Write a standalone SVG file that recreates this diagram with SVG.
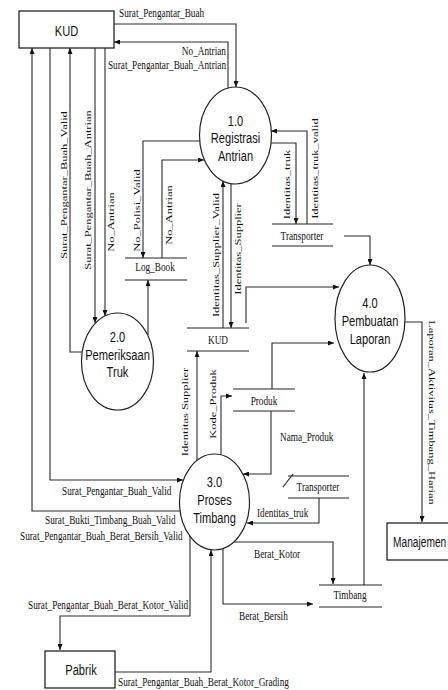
<svg xmlns="http://www.w3.org/2000/svg" width="448" height="690" viewBox="0 0 448 690">
  <style>
    .bg { fill: #ffffff; }
    .box { fill: #ffffff; stroke: #111111; stroke-width: 1.2; }
    .proc { fill: #ffffff; stroke: #222222; stroke-width: 1.2; }
    .store { fill: none; stroke: #222222; stroke-width: 1.2; }
    .flow { fill: none; stroke: #2a2a2a; stroke-width: 1.1; }
    .arrow { marker-end: url(#head); }
    .node { font-family: "Liberation Sans", Arial, sans-serif; font-size: 15px; text-anchor: middle; fill: #111111; }
    .lbl { font-family: "Liberation Serif", "Times New Roman", serif; font-size: 12.5px; fill: #111111; }
    .mid { text-anchor: middle; }
    .end { text-anchor: end; }
  </style>
  <defs>
    <marker id="head" markerUnits="userSpaceOnUse" markerWidth="6" markerHeight="5" refX="6" refY="2.5" orient="auto">
      <path d="M0,0 L6,2.5 L0,5 z" fill="#111111"/>
    </marker>
  </defs>

  <rect class="bg" x="0" y="0" width="448" height="690"/>

  <!-- external entities -->
  <g id="ext-kud">
    <rect class="box" x="19" y="11" width="95" height="37"/>
    <text class="node" transform="translate(66.5,36) scale(0.74,1)">KUD</text>
  </g>
  <g id="ext-pabrik">
    <rect class="box" x="45" y="651" width="70" height="37"/>
    <text class="node" transform="translate(81,675) scale(0.74,1)">Pabrik</text>
  </g>
  <g id="ext-manajemen">
    <rect class="box" x="387" y="523" width="80" height="37"/>
    <text class="node" style="text-anchor:start" transform="translate(393,547) scale(0.68,1)">Manajemen</text>
  </g>

  <!-- processes -->
  <g id="proc-1">
    <ellipse class="proc" cx="235.5" cy="135.5" rx="36" ry="48.5"/>
    <text class="node" transform="translate(235.5,126) scale(0.74,1)">1.0</text>
    <text class="node" transform="translate(235.5,143) scale(0.74,1)">Registrasi</text>
    <text class="node" transform="translate(235.5,161) scale(0.74,1)">Antrian</text>
  </g>
  <g id="proc-2">
    <ellipse class="proc" cx="117.5" cy="361.5" rx="36" ry="48.5"/>
    <text class="node" transform="translate(117.5,342) scale(0.74,1)">2.0</text>
    <text class="node" transform="translate(117.5,360) scale(0.74,1)">Pemeriksaan</text>
    <text class="node" transform="translate(117.5,377) scale(0.74,1)">Truk</text>
  </g>
  <g id="proc-3">
    <ellipse class="proc" cx="214.5" cy="502" rx="35" ry="48"/>
    <text class="node" transform="translate(214.5,487) scale(0.74,1)">3.0</text>
    <text class="node" transform="translate(214.5,504.5) scale(0.74,1)">Proses</text>
    <text class="node" transform="translate(214.5,523) scale(0.74,1)">Timbang</text>
  </g>
  <g id="proc-4">
    <ellipse class="proc" cx="370" cy="318.5" rx="35" ry="53.5"/>
    <text class="node" transform="translate(370,308) scale(0.74,1)">4.0</text>
    <text class="node" transform="translate(370,326) scale(0.74,1)">Pembuatan</text>
    <text class="node" transform="translate(370,344) scale(0.74,1)">Laporan</text>
  </g>

  <!-- data stores -->
  <g id="store-logbook">
    <path class="store" d="M125,258 H187 M125,280 H187"/>
    <text class="lbl mid" transform="translate(155,271) scale(0.74,1)">Log_Book</text>
  </g>
  <g id="store-transporter-1">
    <path class="store" d="M272,224 H333 M272,246 H333"/>
    <text class="lbl mid" transform="translate(302,239.5) scale(0.74,1)">Transporter</text>
  </g>
  <g id="store-kud">
    <path class="store" d="M187,328 H249 M187,351 H249"/>
    <text class="lbl mid" transform="translate(218,344) scale(0.74,1)">KUD</text>
  </g>
  <g id="store-produk">
    <path class="store" d="M233,389 H295 M233,411 H295"/>
    <text class="lbl mid" transform="translate(264,404.5) scale(0.74,1)">Produk</text>
  </g>
  <g id="store-transporter-2">
    <path class="store" d="M288,476 H349 M288,498 H349 M283,487 L293,474"/>
    <text class="lbl mid" transform="translate(318,491) scale(0.74,1)">Transporter</text>
  </g>
  <g id="store-timbang">
    <path class="store" d="M319,585 H382 M319,607 H382"/>
    <text class="lbl mid" transform="translate(350,598.5) scale(0.74,1)">Timbang</text>
  </g>

  <!-- data flows -->
  <g id="flows">
    <path class="flow arrow" d="M114,24 H236 V87"/>
    <path class="flow arrow" d="M228,89 V42 H114"/>
    <path class="flow arrow" d="M82,352 H70 V48"/>
    <path class="flow arrow" d="M95,48 V323"/>
    <path class="flow arrow" d="M105,48 V316"/>
    <path class="flow arrow" d="M50,48 V480 H183"/>
    <path class="flow arrow" d="M180,511 H32 V48"/>
    <path class="flow arrow" d="M200,141 H143 V258"/>
    <path class="flow arrow" d="M162,258 V160 H204"/>
    <path class="flow arrow" d="M148,335 V280"/>
    <path class="flow arrow" d="M223,328 V181"/>
    <path class="flow arrow" d="M231,184 V328"/>
    <path class="flow arrow" d="M271,143 H296 V224"/>
    <path class="flow arrow" d="M307,224 V131 H271"/>
    <path class="flow arrow" d="M344,236 H370 V265"/>
    <path class="flow arrow" d="M246,323 V287 H339"/>
    <path class="flow arrow" d="M197,460 V351"/>
    <path class="flow arrow" d="M221,455 V396 H232"/>
    <path class="flow arrow" d="M271,411 V474 H243"/>
    <path class="flow arrow" d="M272,389 V343 H334"/>
    <path class="flow arrow" d="M319,498 V523 H247"/>
    <path class="flow arrow" d="M234,542 H333 V584"/>
    <path class="flow arrow" d="M223,549 V604 H313"/>
    <path class="flow arrow" d="M364,585 V373"/>
    <path class="flow arrow" d="M405,322 H422 V522"/>
    <path class="flow arrow" d="M190,536 V616 H60 V650"/>
    <path class="flow arrow" d="M115,672 H211 V550"/>

    <!-- horizontal flow labels -->
    <text class="lbl" transform="translate(119,17) scale(0.74,1)">Surat_Pengantar_Buah</text>
    <text class="lbl end" transform="translate(226,55) scale(0.74,1)">No_Antrian</text>
    <text class="lbl end" transform="translate(226,69) scale(0.74,1)">Surat_Pengantar_Buah_Antrian</text>
    <text class="lbl" transform="translate(280,441) scale(0.74,1)">Nama_Produk</text>
    <text class="lbl" transform="translate(257,517) scale(0.74,1)">Identitas_truk</text>
    <text class="lbl" transform="translate(62,495) scale(0.74,1)">Surat_Pengantar_Buah_Valid</text>
    <text class="lbl" transform="translate(45,524) scale(0.74,1)">Surat_Bukti_Timbang_Buah_Valid</text>
    <text class="lbl" transform="translate(20,539.5) scale(0.74,1)">Surat_Pengantar_Buah_Berat_Bersih_Valid</text>
    <text class="lbl" transform="translate(28,609) scale(0.74,1)">Surat_Pengantar_Buah_Berat_Kotor_Valid</text>
    <text class="lbl" transform="translate(118,686) scale(0.74,1)">Surat_Pengantar_Buah_Berat_Kotor_Grading</text>
    <text class="lbl" transform="translate(254,558) scale(0.74,1)">Berat_Kotor</text>
    <text class="lbl" transform="translate(239,620) scale(0.74,1)">Berat_Bersih</text>

    <!-- vertical flow labels -->
    <text class="lbl mid" transform="translate(67,185) rotate(-90) scale(1,0.74)">Surat_Pengantar_Buah_Valid</text>
    <text class="lbl mid" transform="translate(91,190) rotate(-90) scale(1,0.74)">Surat_Pengantar_Buah_Antrian</text>
    <text class="lbl mid" transform="translate(114,222) rotate(-90) scale(1,0.74)">No_Antrian</text>
    <text class="lbl mid" transform="translate(140,210.5) rotate(-90) scale(1,0.74)">No_Polisi_Valid</text>
    <text class="lbl mid" transform="translate(172,215) rotate(-90) scale(1,0.74)">No_Antrian</text>
    <text class="lbl mid" transform="translate(219,255) rotate(-90) scale(1,0.74)">Identitas_Supplier_Valid</text>
    <text class="lbl mid" transform="translate(241,249) rotate(-90) scale(1,0.74)">Identitas_Supplier</text>
    <text class="lbl mid" transform="translate(290,184.5) rotate(-90) scale(1,0.74)">Identitas_truk</text>
    <text class="lbl mid" transform="translate(318,168.5) rotate(-90) scale(1,0.74)">Identitas_truk_valid</text>
    <text class="lbl mid" transform="translate(216,404) rotate(-90) scale(1,0.74)">Kode_Produk</text>
    <text class="lbl mid" transform="translate(188,412) rotate(-90) scale(1,0.74)">Identitas Supplier</text>
    <text class="lbl mid" transform="translate(429,412.5) rotate(90) scale(1,0.74)">Laporan_Aktivitas_Timbang_Harian</text>
  </g>
</svg>
